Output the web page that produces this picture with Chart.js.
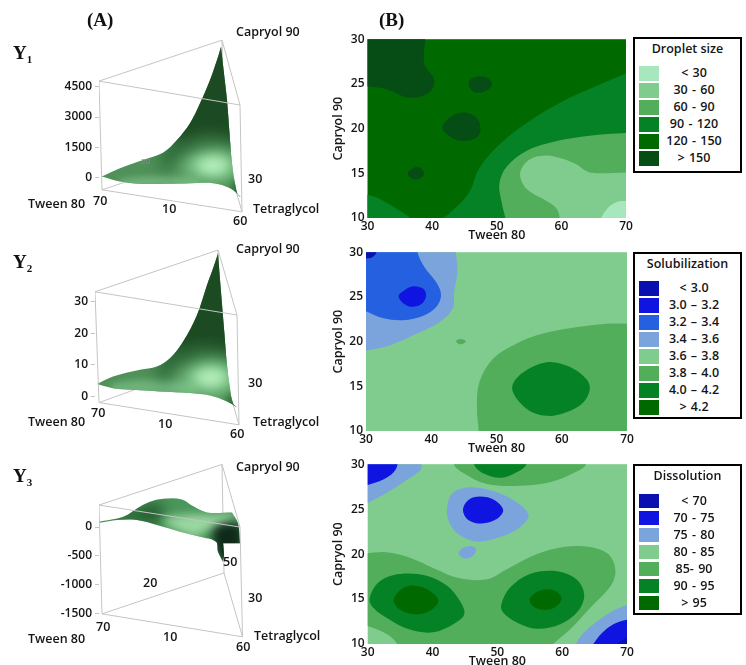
<!DOCTYPE html>
<html>
<head>
<meta charset="utf-8">
<script src="https://cdn.jsdelivr.net/npm/chart.js@4"></script>
<style>
  html, body { margin: 0; padding: 0; background: #fff; }
  #page { position: relative; width: 746px; height: 665px; overflow: hidden; font-family: "Open Sans", sans-serif; font-weight: 600; color: #151515; }
  canvas { position: absolute; }
  .note { position: absolute; white-space: nowrap; font-size: 12.5px; line-height: 1; transform: translateY(-50%); }
  .head { position: absolute; white-space: nowrap; font: bold 19px "Liberation Serif", serif; line-height: 1; transform: translateY(-50%); color: #111; }
  .head sub { font-size: 11px; vertical-align: -4px; line-height: 0; }
  .legend { position: absolute; left: 633px; width: 105px; border: 2px solid #000; box-sizing: content-box; background: #fff; }
  .legend .title { position: absolute; left: 0; right: 0; text-align: center; font-size: 12.5px; line-height: 1; transform: translateY(-50%); }
  .legend .swatch { position: absolute; left: 4px; width: 20px; height: 14.5px; }
  .legend .label { position: absolute; left: 25px; width: 68px; text-align: center; font-size: 12.5px; line-height: 14.5px; word-spacing: 1px; }
</style>
</head>
<body>
<div id="page"></div>
<script>
const tweenTicks = [30, 40, 50, 60, 70]
const capryolTicks = [10, 15, 20, 25, 30]

// contour bands, [tween, capryol] outlines, lowest band painted first
const dropletOver150a = [[38.9,30],[38.8,27.2],[40.2,25.7],[40.2,24.6],[38.7,23.7],[36.1,23.5],[33,24.4],[30,24.7],[28,24.8],[28,32],[38.9,32]]
const dropletOver150b = [[45.7,25.3],[46.9,25.8],[48.5,25.7],[49.3,25],[48.5,24.3],[47.2,24],[46.1,24.3]]
const dropletOver150c = [[41.6,20.1],[43,21.4],[45.1,21.8],[46.9,21.2],[47.5,19.9],[46.9,19],[44.8,18.6],[43,19]]
const dropletOver150d = [[36.2,15],[36.9,15.5],[37.9,15.7],[38.8,15],[38.1,14.4],[36.9,14.4]]
const droplet90a = [[70,26.2],[65.5,24.8],[60.3,23.1],[55.2,20.9],[51,18.6],[47.4,15.7],[45.6,12.7],[42.5,10.4],[41.2,9.7],[41,8],[72,8],[72,26.9]]
const droplet90b = [[30,12.6],[32,12.1],[35,10.8],[36.9,9.7],[36.9,8],[28,8],[28,12.7]]
const droplet60 = [[70,19.5],[64.4,19.2],[59.3,18.6],[54.6,17.5],[51.5,15.7],[50.4,13.8],[50.8,11.6],[51.4,9.7],[51.4,8],[72,8],[72,19.5]]
const droplet30 = [[70,15.1],[64.4,15.1],[62.3,16],[60.3,16.6],[57.7,17],[55.2,16.6],[53.7,15.3],[53.9,14],[55.2,12.9],[57.7,11.9],[59.3,11],[59.8,9.7],[59.8,8],[72,8],[72,15.1]]
const dropletUnder30 = [[70,11.9],[68.6,11.8],[67.3,11.2],[66,9.7],[66,8],[72,8],[72,11.9]]

const solub34 = [[43.8,30],[44,27.8],[43.5,25.5],[43.3,23.7],[41.3,22.2],[37.8,20.9],[33.7,19.6],[30,19],[28,18.7],[28,32],[43.8,32]]
const solub32 = [[37.9,30],[39,28.3],[40.8,26.6],[41.5,25.2],[40.8,23.9],[38.8,22.9],[35.7,22.4],[32.7,22.6],[30,23.4],[28,24.2],[28,32],[37.9,32]]
const solub30 = [[35,25.1],[36,25.8],[37.2,26.2],[38.8,25.9],[39.2,25.1],[38.5,24.2],[37,23.9],[35.7,24.3]]
const solubUnder30 = [[30,29.3],[30.9,29.4],[31.6,30],[31.7,32],[28,32],[28,29.2]]
const solub38a = [[70,22],[66.8,22],[62.2,21.6],[57.1,20.9],[53.1,19.8],[49.5,18.1],[47.4,15.5],[47,12.5],[47.3,9.7],[47.3,8],[72,8],[72,22]]
const solub38b = [[43.8,20.05],[44.5,20.3],[45.3,20.05],[44.5,19.7]]
const solub40 = [[52.4,14.7],[53.8,16.4],[57.7,17.7],[61.2,17.2],[63.8,15.8],[64.3,14.7],[63.3,13.2],[60.7,12.1],[57.7,11.7],[54.6,12.5]]

const dissol75a = [[38.3,30],[38.1,29.3],[35.5,28],[32.9,26.8],[30,25.7],[28,25],[28,32],[38.3,32]]
const dissol70a = [[34.6,30],[34,29.1],[32.4,28.3],[30,27.7],[28,27.3],[28,32],[34.6,32]]
const dissol85a = [[43.3,30],[44.8,29],[48.4,27.8],[53.5,27.6],[58.1,28],[61.7,29],[63.7,30],[63.7,32],[43.3,32]]
const dissol90a = [[46.4,30],[47.8,29],[50.4,28.5],[52.7,29],[54.5,30],[54.5,32],[46.4,32]]
const dissol75b = [[42.2,24.9],[43,26.7],[45.3,27.4],[48.9,27.1],[52.5,26],[54.8,24.4],[53.5,23],[50.4,21.9],[46.8,21.4],[44,22.2],[42.6,23.5]]
const dissol70b = [[44.7,24.9],[45.5,26],[47.3,26.4],[49.6,26],[50.9,24.9],[49.9,23.9],[47.6,23.4],[45.5,23.8]]
const dissol75c = [[44,20.1],[45,20.8],[46.6,20.7],[46.4,19.9],[45,19.5]]
const dissol85b = [[30,20.1],[32.9,20.2],[36.5,19.6],[40.6,18.3],[44.2,17.3],[48.4,17.2],[51.4,18.3],[56.1,20],[60.2,20.8],[64.3,20.8],[67.1,20],[68.2,18.3],[67.6,16.6],[64.3,14],[61.2,11.6],[58.6,10],[57.9,9.4],[58,8],[35.5,8],[35,9.5],[33.2,11],[30,12],[28,12.5],[28,20.1]]
const dissol90b = [[30.3,15.1],[31.9,17],[35,17.8],[39.1,17.6],[42.2,16.5],[44.2,14.8],[44.9,13.3],[43.2,12.2],[40.1,11.3],[36.5,11.6],[33.4,12.7],[30.9,14]]
const dissol90c = [[50.6,14.4],[52,16.3],[55,17.8],[59.2,18.1],[62.2,17.2],[63.4,15.5],[62.5,13.7],[59.7,12.2],[56.1,11.7],[53,12.4],[50.9,13.5]]
const dissol95a = [[34,14.9],[35.2,16.1],[37,16.5],[39.4,16],[40.9,14.8],[39.6,13.7],[37.3,13.3],[35,13.8]]
const dissol95b = [[55,15],[56.1,15.8],[57.6,16.1],[59.2,15.8],[59.9,15],[58.9,14.1],[57.1,13.8],[55.5,14.2]]
const dissol75d = [[70,14.3],[67.4,13.5],[64.8,12.2],[63,11],[62.1,10],[61.7,9.4],[61.7,8],[72,8],[72,14.3]]
const dissol70c = [[70,12.7],[67.9,12.2],[66.1,11.2],[64.8,10],[64.3,9.4],[64.3,8],[72,8],[72,12.7]]
const dissolUnder70 = [[70,10.7],[69.2,10.4],[68.5,10],[68.2,9.5],[68.2,8],[72,8],[72,10.7]]

// legends
const dropletLabels = ['< 30', '30 - 60', '60 - 90', '90 - 120', '120 - 150', '> 150']
const dropletColors = ['#a8e6bd', '#80cc8e', '#52ae5a', '#058225', '#006a00', '#054d14']
const solubLabels = ['< 3.0', '3.0 – 3.2', '3.2 – 3.4', '3.4 – 3.6', '3.6 – 3.8', '3.8 – 4.0', '4.0 – 4.2', '> 4.2']
const solubColors = ['#0a0fb0', '#1014e0', '#2560e0', '#7ba4dc', '#80cc8e', '#52ae5a', '#058225', '#006a00']
const dissolLabels = ['< 70', '70 - 75', '75 - 80', '80 - 85', '85- 90', '90 - 95', '> 95']
const dissolColors = ['#0a0fb0', '#1014e0', '#7ba4dc', '#80cc8e', '#52ae5a', '#058225', '#006a00']

// 3d response surfaces, [view position, response]
const y1Ticks = [0, 1500, 3000, 4500]
const y1FrameTop = [[0,4772],[123,6790],[141,3592]]
const y1FrameBottom = [[3,-590],[125,1427],[143,-1673]]
const y1Surface = [[2.7,64],[2.7,64],[21,477],[44,886],[64,1245],[78,1870],[91,2690],[101,3675],[111,4822],[118,5806],[122,6460],[122,6460],[125,5150],[128,3838],[131,1870],[133,723],[136,-261],[139,-836],[143,-999],[143,-999],[131,-507],[114,-261],[91,-261],[68,-295],[41,-295],[21,-182]]
const y1Dark = [[126,7282],[151,2854],[149,1870],[111,2116],[81,1771],[71,1870],[76,2608],[96,4576],[111,6790]]
const y1Mid = [[61,1132],[81,1968],[151,2460],[151,1132],[101,1132],[66,394]]
const y1Light = [[81,541],[96,1132],[116,1378],[136,1132],[139,394],[126,0],[101,0]]
const y1Glow = [[98,640],[113,984],[129,738],[123,295],[106,295]]
const y1Corner = [[134,-98],[146,-590],[146,-1328],[133,-590]]
const y1Strip = [[21,-98],[71,98],[101,-98],[101,-394],[21,-394]]

const y2Ticks = [0, 10, 20, 30]
const y2FrameTop = [[0,33],[123,46.1],[142,25.7]]
const y2FrameBottom = [[4,-1.8],[125,11.9],[144,-8.8]]
const y2Surface = [[2,4],[2,4],[18,6.4],[45,8.5],[62,9.5],[75,12.1],[88,17.3],[102,25.7],[112,35.1],[118,40.3],[123,45],[123,45],[126,33],[129,21.5],[132,10],[135,2.7],[138,-2],[143,-3.5],[143,-3.5],[132,-1.5],[115,0.4],[95,1.2],[65,1.7],[38,2.2],[18,2.7]]
const y2Dark = [[127,49.2],[152,19.4],[150,14.1],[111,15.7],[81,14.1],[71,14.7],[77,19.4],[97,32],[111,46]]
const y2Mid = [[61,10.3],[81,15.7],[151,18.8],[151,10.3],[101,10.3],[66,5.6]]
const y2Light = [[83,5.3],[100,9.4],[120,11],[137,9],[139,3.8],[125,1.6],[100,1.6]]
const y2Glow = [[100,6.6],[115,8.5],[131,6.9],[125,4.1],[108,4.1]]
const y2Corner = [[133,1.3],[147,-2.5],[147,-5.6],[133,-2.5]]
const y2Strip = [[18,4.1],[70,5.3],[100,3.4],[100,0.9],[18,1.6]]

const y3Ticks = [-1500, -1000, -500, 0]
const y3FrameTop = [[0,381],[123,1085],[141,0]]
const y3FrameBottom = [[3,-1505],[125,-796],[143.5,-1903]]
const y3Surface = [[0,92],[0,92],[14,133],[26,190],[38,323],[51,438],[64,490],[83,479],[94,363],[108,254],[133,254],[133,254],[139,64],[141,-282],[141,-282],[124,-282],[124,-282],[125,-484],[124,-600],[124,-600],[119,-427],[117,-254],[101,-168],[81,-81],[58,35],[38,121],[18,121],[1,74]]
const y3DarkLeft = [[11,156],[41,346],[61,415],[61,69],[34,87]]
const y3Light = [[64,121],[88,208],[114,208],[134,208],[131,35],[104,-87],[98,-173],[74,-17]]
const y3DarkRight = [[114,-225],[114,-52],[124,69],[141,35],[143,-346],[128,-657],[118,-450]]

const page = document.getElementById('page')

// turn a dataset's line into a closed smooth loop, same way radar lines do it
function closeLine(line, area) {
  if (!line._fullLoop) {
    line._loop = true
    line._fullLoop = true
    line._segments = undefined
    line._pointsUpdated = false
  }
  line.updateControlPoints(area, 'x')
}

// fills a scatter dataset's own line path as a closed shape
const regionPlugin = {
  id: 'regions',
  beforeDatasetsDraw(chart, args, opts) {
    if (!opts.base) return
    const a = chart.chartArea
    chart.ctx.fillStyle = opts.base
    chart.ctx.fillRect(a.left, a.top, a.right - a.left, a.bottom - a.top)
  },
  beforeDatasetDraw(chart, args) {
    const ds = chart.data.datasets[args.index]
    if (!ds.region) return
    const ctx = chart.ctx
    const a = chart.chartArea
    ctx.save()
    if (ds.clipTo !== undefined) {
      const outline = chart.getDatasetMeta(ds.clipTo).dataset
      closeLine(outline, a)
      ctx.beginPath()
      outline.path(ctx)
      ctx.closePath()
      ctx.clip()
    } else if (ds.keepInArea) {
      ctx.beginPath()
      ctx.rect(a.left, a.top, a.right - a.left, a.bottom - a.top)
      ctx.clip()
    }
    if (ds.blur) ctx.filter = 'blur(' + ds.blur + 'px)'
    closeLine(args.meta.dataset, a)
    ctx.beginPath()
    args.meta.dataset.path(ctx)
    ctx.closePath()
    ctx.fillStyle = ds.color
    ctx.fill()
    ctx.restore()
  }
}
Chart.register(regionPlugin)

const toPoints = pts => pts.map(p => ({ x: p[0], y: p[1] }))

function shape(pts, color, extra) {
  return Object.assign({
    data: toPoints(pts),
    region: true, color, showLine: true, borderWidth: 0, pointRadius: 0, tension: 0.35, capBezierPoints: false
  }, extra)
}

function edge(a, b) {
  return { data: toPoints([a, b]), showLine: true, borderColor: '#c4c4c4', borderWidth: 1, pointRadius: 0, tension: 0 }
}

function addCanvas(left, top, width, height) {
  const c = document.createElement('canvas')
  c.width = width
  c.height = height
  c.style.left = left + 'px'
  c.style.top = top + 'px'
  page.appendChild(c)
  return c
}

function inOrder(list) {
  // chart.js paints high order first, keep list order as paint order
  list.forEach((d, i) => { d.order = list.length - i })
  return list
}

const tickFont = { family: 'Open Sans', size: 12, weight: '600' }
const titleFont = { family: 'Open Sans', size: 12.5, weight: '600' }

function contour(box, base, layers) {
  const left = 330
  const canvas = addCanvas(left, box.top - 10, Math.ceil(box.right + 12 - left), Math.ceil(box.bottom + 25 - box.top + 10))
  new Chart(canvas, {
    type: 'scatter',
    data: { datasets: inOrder(layers.map(l => shape(l[0], l[1], { keepInArea: true }))) },
    options: {
      responsive: false,
      animation: false,
      events: [],
      layout: { padding: { top: 10, right: canvas.width - (box.right - left) } },
      plugins: { legend: { display: false }, tooltip: { enabled: false }, regions: { base } },
      scales: {
        x: {
          min: 30, max: 70,
          afterFit: s => { s.height = 25 },
          afterBuildTicks: s => { s.ticks = tweenTicks.map(value => ({ value })) },
          grid: { display: false, drawTicks: false }, border: { display: false },
          ticks: { font: tickFont, color: '#151515', padding: 1, maxRotation: 0, autoSkip: false },
          title: { display: true, text: 'Tween 80', font: titleFont, color: '#151515', padding: 0 }
        },
        y: {
          min: 10, max: 30,
          afterFit: s => { s.width = box.left - left },
          afterBuildTicks: s => { s.ticks = capryolTicks.map(value => ({ value })) },
          grid: { display: false, drawTicks: false }, border: { display: false },
          ticks: { font: tickFont, color: '#151515', padding: 3, autoSkip: false },
          title: { display: true, text: 'Capryol 90', font: titleFont, color: '#151515', padding: { top: 1, bottom: 0 } }
        }
      }
    }
  })
}

function surface3d(p) {
  const t = p.frameTop, b = p.frameBottom
  const back = [edge(t[0], t[1]), edge(t[1], t[2]), edge(b[0], b[1]), edge(b[1], b[2]), edge(t[1], b[1])]
  const outlineIndex = back.length
  const shades = p.shades.map(s => shape(s[0], s[1], { clipTo: outlineIndex, blur: s[2], tension: 0.4 }))
  const front = [edge(t[2], t[0]), edge(t[0], b[0]), edge(t[2], b[2]), edge(b[0], b[2])]
  const canvas = addCanvas(0, p.top - 10, 330, 220)
  new Chart(canvas, {
    type: 'scatter',
    data: { datasets: inOrder(back.concat([shape(p.outline, p.color)], shades, front)) },
    options: {
      responsive: false,
      animation: false,
      events: [],
      layout: { padding: { top: 10, bottom: 10, right: 330 - p.axisX - 150 } },
      plugins: { legend: { display: false }, tooltip: { enabled: false } },
      scales: {
        x: { display: false, min: 0, max: 150 },
        y: {
          min: p.min, max: p.max,
          afterFit: s => { s.width = p.axisX },
          afterBuildTicks: s => { s.ticks = p.ticks.map(value => ({ value })) },
          border: { display: false },
          grid: { drawOnChartArea: false, drawTicks: true, tickLength: 4, color: '#c4c4c4' },
          ticks: { font: tickFont, color: '#151515', padding: 3, autoSkip: false, callback: v => String(v) }
        }
      }
    }
  })
}

function note(text, x, y, css) {
  const d = document.createElement('div')
  d.className = 'note'
  d.textContent = text
  d.style.left = x + 'px'
  d.style.top = y + 'px'
  if (css) d.style.cssText += css
  page.appendChild(d)
}

function head(html, x, y) {
  const d = document.createElement('div')
  d.className = 'head'
  d.innerHTML = html
  d.style.left = x + 'px'
  d.style.top = y + 'px'
  page.appendChild(d)
}

function legend(title, labels, colors, top, height, titleY, firstSwatch) {
  const box = document.createElement('div')
  box.className = 'legend'
  box.style.top = top + 'px'
  box.style.height = height + 'px'
  const t = document.createElement('div')
  t.className = 'title'
  t.textContent = title
  t.style.top = titleY + 'px'
  box.appendChild(t)
  labels.forEach((lab, i) => {
    const y = firstSwatch + i * 17
    const s = document.createElement('div')
    s.className = 'swatch'
    s.style.top = y + 'px'
    s.style.background = colors[i]
    box.appendChild(s)
    const l = document.createElement('div')
    l.className = 'label'
    l.textContent = lab
    l.style.top = y + 'px'
    box.appendChild(l)
  })
  page.appendChild(box)
}

// left column
surface3d({ top: 26, axisX: 99, min: -2362, max: 7478, ticks: y1Ticks, frameTop: y1FrameTop, frameBottom: y1FrameBottom,
  outline: y1Surface, color: '#4f9159',
  shades: [[y1Strip, '#6fb27a', 3], [y1Mid, '#2f6b3a', 8], [y1Dark, '#1c4a22', 7], [y1Corner, '#2a6a36', 3], [y1Light, '#86d092', 9], [y1Glow, '#b9f0bf', 6]] })
surface3d({ top: 240, axisX: 95, min: -13.5, max: 49.2, ticks: y2Ticks, frameTop: y2FrameTop, frameBottom: y2FrameBottom,
  outline: y2Surface, color: '#4f9159',
  shades: [[y2Strip, '#6fb27a', 3], [y2Mid, '#2f6b3a', 8], [y2Dark, '#1c4a22', 7], [y2Corner, '#2a6a36', 3], [y2Light, '#86d092', 9], [y2Glow, '#b9f0bf', 6]] })
surface3d({ top: 450, axisX: 99, min: -2128, max: 1332, ticks: y3Ticks, frameTop: y3FrameTop, frameBottom: y3FrameBottom,
  outline: y3Surface, color: '#4b965a',
  shades: [[y3DarkLeft, '#255c30', 7], [y3Light, '#9bd8a2', 5], [y3DarkRight, '#10291a', 5]] })

// right column
contour({ left: 367.5, right: 626, top: 38.5, bottom: 217 }, '#006a00', [
  [dropletOver150a, '#054d14'], [dropletOver150b, '#054d14'], [dropletOver150c, '#054d14'], [dropletOver150d, '#054d14'],
  [droplet90a, '#058225'], [droplet90b, '#058225'], [droplet60, '#52ae5a'], [droplet30, '#80cc8e'], [dropletUnder30, '#a8e6bd']
])
contour({ left: 366, right: 627, top: 251.7, bottom: 430.7 }, '#80cc8e', [
  [solub34, '#7ba4dc'], [solub32, '#2560e0'], [solub30, '#1014e0'], [solubUnder30, '#0a0fb0'],
  [solub38a, '#52ae5a'], [solub38b, '#52ae5a'], [solub40, '#058225']
])
contour({ left: 367.7, right: 627, top: 463.7, bottom: 642.7 }, '#80cc8e', [
  [dissol75a, '#7ba4dc'], [dissol70a, '#1014e0'], [dissol85a, '#52ae5a'], [dissol90a, '#058225'],
  [dissol75b, '#7ba4dc'], [dissol70b, '#1014e0'], [dissol75c, '#7ba4dc'],
  [dissol85b, '#52ae5a'], [dissol90b, '#058225'], [dissol90c, '#058225'], [dissol95a, '#006a00'], [dissol95b, '#006a00'],
  [dissol75d, '#7ba4dc'], [dissol70c, '#1014e0'], [dissolUnder70, '#0a0fb0']
])

legend('Droplet size', dropletLabels, dropletColors, 37, 132, 10, 27)
legend('Solubilization', solubLabels, solubColors, 252, 163, 10, 27)
legend('Dissolution', dissolLabels, dissolColors, 464, 147, 10, 27.5)

head('(A)', 87, 19)
head('(B)', 379, 19)
head('Y<sub>1</sub>', 13, 52)
head('Y<sub>2</sub>', 13, 261)
head('Y<sub>3</sub>', 13, 475)

note('Capryol 90', 236, 32); note('Tween 80', 28, 204); note('70', 93, 201); note('10', 162, 209)
note('30', 248, 179); note('60', 233, 221); note('Tetraglycol', 253, 209)
note('20', 141, 161, 'font-size:8px;color:#8a8a8a;font-weight:400;')
note('Capryol 90', 236, 249); note('Tween 80', 28, 422); note('70', 91, 413); note('10', 158, 424)
note('30', 248, 383); note('60', 230, 434); note('Tetraglycol', 253, 422)
note('Capryol 90', 236, 467); note('Tween 80', 28, 639); note('70', 96, 627); note('10', 163, 637)
note('30', 248, 598); note('60', 236, 647); note('Tetraglycol', 254, 636); note('50', 223, 562); note('20', 143, 583)
</script>
</body>
</html>
